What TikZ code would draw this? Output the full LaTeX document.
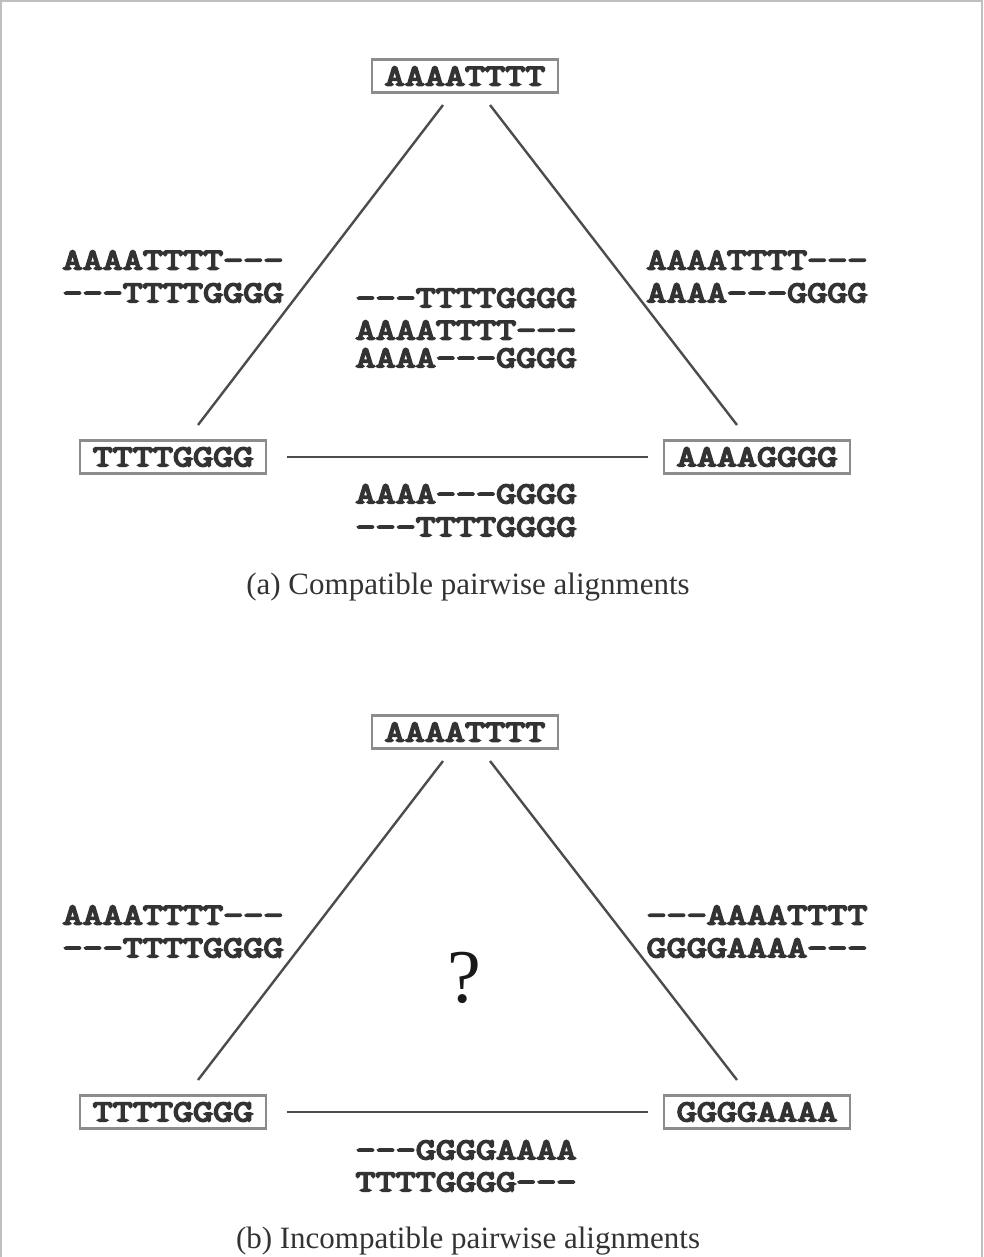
\documentclass[tikz,border=0pt]{standalone}
\usepackage{fontspec}
\setmainfont{Liberation Serif}
\newfontfamily\seqfont[FakeStretch=1.3, FakeBold=6]{Latin Modern Mono}
\usetikzlibrary{calc}
\tikzset{
  seq/.style={font=\seqfont\fontsize{15}{17}\selectfont, text=black!80, inner sep=0pt, anchor=center},
  seqbox/.style={seq, draw=black!45, line width=1.2pt, minimum width=93pt, minimum height=16.5pt, inner sep=0pt},
  link/.style={draw=black!70, line width=1.2pt},
  captxt/.style={font=\fontsize{15.5}{17}\selectfont, text=black!80, anchor=center},
  framestyle/.style={draw=black!25, line width=1pt}
}
\begin{document}
\begin{tikzpicture}[x=0.5pt,y=-0.5pt]
\useasboundingbox (0,0) rectangle (984,1257);
\draw[framestyle] (1,1257) -- (1,1) -- (982,1) -- (982,1257);
% ---------- (a) ----------
\node[seqbox] (aT) at (465,76) {AAAATTTT};
\node[seqbox] (aL) at (173,457) {TTTTGGGG};
\node[seqbox] (aR) at (757,457) {AAAAGGGG};
\coordinate (aT1) at (443,105);
\coordinate (aT2) at (490,105);
\coordinate (aL1) at (198,425);
\coordinate (aR1) at (737,425);
\coordinate (aL2) at (287,457);
\coordinate (aR2) at (648,457);
\draw[link] (aT1) -- (aL1);
\draw[link] (aT2) -- (aR1);
\draw[link] (aL2) -- (aR2);
\node[seq] (aLa) at (173,260) {AAAATTTT---};
\node[seq] (aLb) at (173,293) {---TTTTGGGG};
\node[seq] (aRa) at (757,260) {AAAATTTT---};
\node[seq] (aRb) at (757,293) {AAAA---GGGG};
\node[seq] (aCa) at (466,298) {---TTTTGGGG};
\node[seq] (aCb) at (466,330) {AAAATTTT---};
\node[seq] (aCc) at (466,358) {AAAA---GGGG};
\node[seq] (aBa) at (466,494) {AAAA---GGGG};
\node[seq] (aBb) at (466,527) {---TTTTGGGG};
\node[captxt] (capa) at (468,587) {(a) Compatible pairwise alignments};
% ---------- (b) ----------
\node[seqbox] (bT) at (465,732) {AAAATTTT};
\node[seqbox] (bL) at (173,1112) {TTTTGGGG};
\node[seqbox] (bR) at (757,1112) {GGGGAAAA};
\coordinate (bT1) at (443,761);
\coordinate (bT2) at (490,761);
\coordinate (bL1) at (198,1080);
\coordinate (bR1) at (737,1080);
\coordinate (bL2) at (287,1112);
\coordinate (bR2) at (648,1112);
\draw[link] (bT1) -- (bL1);
\draw[link] (bT2) -- (bR1);
\draw[link] (bL2) -- (bR2);
\node[seq] (bLa) at (173,915) {AAAATTTT---};
\node[seq] (bLb) at (173,948) {---TTTTGGGG};
\node[seq] (bRa) at (757,915) {---AAAATTTT};
\node[seq] (bRb) at (757,948) {GGGGAAAA---};
\node[font=\fontsize{38}{42}\selectfont, text=black!90] (q) at (464,978) {?};
\node[seq] (bBa) at (466,1150) {---GGGGAAAA};
\node[seq] (bBb) at (466,1182) {TTTTGGGG---};
\node[captxt] (capb) at (468,1241) {(b) Incompatible pairwise alignments};
\end{tikzpicture}
\end{document}
